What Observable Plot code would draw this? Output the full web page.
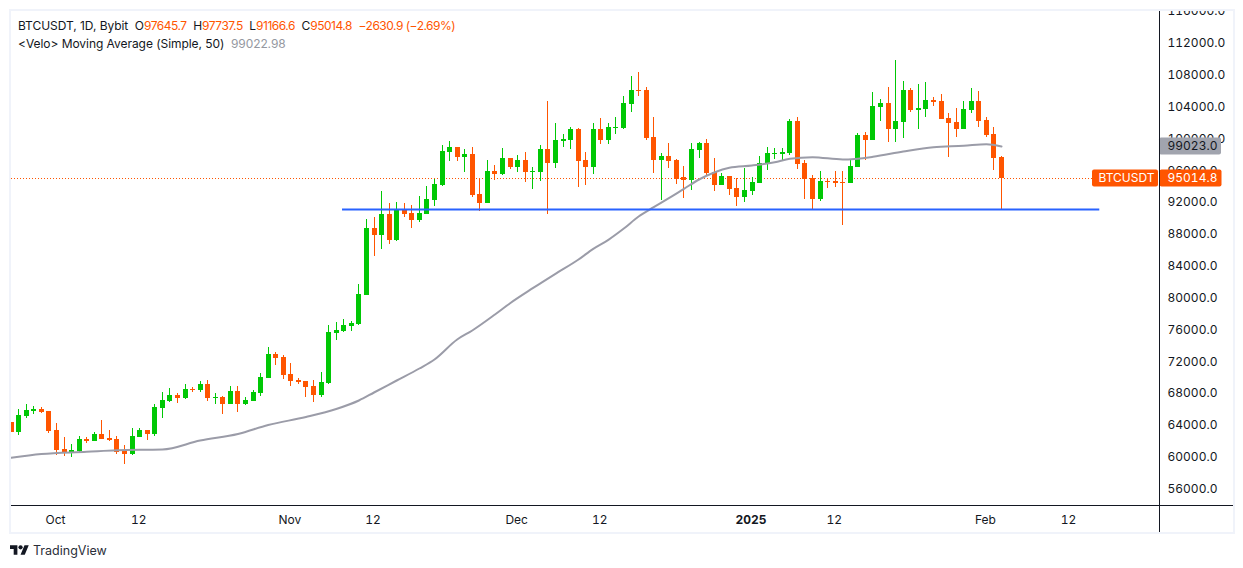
<!DOCTYPE html>
<html>
<head>
<meta charset="utf-8">
<script src="https://cdn.jsdelivr.net/npm/d3@7"></script>
<script src="https://cdn.jsdelivr.net/npm/@observablehq/plot@0.6"></script>
<style>
html,body{margin:0;padding:0;background:#fff;width:1243px;height:568px;overflow:hidden}
body{position:relative;font-family:Inter,"Noto Sans",sans-serif;color:#131722}
svg{display:block}
.strip{position:absolute;left:0;top:0;width:1243px;height:10px;background:#fff}
.frame{position:absolute;left:9px;top:9px;width:1222px;height:521px;border:2px solid #f0f3fa;pointer-events:none}
.hline{position:absolute;left:11px;top:505px;width:1222px;height:1px;background:#131722}
.vline{position:absolute;left:1159px;top:11px;width:1px;height:521px;background:#131722}
.legend{position:absolute;left:18px;top:17px;font-size:12px;line-height:17.5px;white-space:pre;letter-spacing:-0.05px}
.up{color:#ff5500;letter-spacing:-0.5px}.ma{color:#9598a1;font-size:12px;letter-spacing:-0.1px}
.brand{position:absolute;left:10px;top:543px;display:flex;align-items:center;gap:4px;font-size:12.5px;color:#2a2e39}
</style>
</head>
<body>
<div id="chart"></div>
<div class="strip"></div>
<div class="frame"></div>
<div class="hline"></div>
<div class="vline"></div>
<div class="legend">BTCUSDT, 1D, Bybit  O<span class="up">97645.7</span>  H<span class="up">97737.5</span>  L<span class="up">91166.6</span>  C<span class="up">95014.8</span>  <span class="up">−2630.9 (−2.69%)</span>
&lt;Velo&gt; Moving Average (Simple, 50)  <span class="ma">99022.98</span></div>
<div class="brand"><svg width="19" height="15" viewBox="0 0 36 28"><path fill="#131722" d="M14 22H7V11H0V4h14v18zM28 22h-8l7.5-18h8L28 22z"/><circle fill="#131722" cx="20" cy="8" r="4"/></svg><span>TradingView</span></div>
<script>
const firstDay = "2024-09-25";
const opens = [64369,63154,65122,65750,66002,65750,
63364,60978,60601,60726,62234,61982,62862,62359,62234,60726,
60350,62485,63364,62862,66127,67006,67760,67383,68514,68388,
69142,67383,67509,66630,68262,66630,67006,68011,69895,72910,
72533,70398,69644,69518,68890,67760,69267,75547,75798,76426,
76678,80320,88735,87856,90494,87228,91122,90619,89740,90494,
92252,94136,98281,98909,97653,98030,93006,91875,95894,95518,
97527,96397,97276,95769,95769,98658,96899,99662,99788,101170,
97276,96397,101170,99788,101295,101295,104310,106068,106068,100165,
97276,97778,97276,95141,94764,98532,99411,95769,94136,95266,
93759,92629,93382,94387,96774,98030,98030,98155,102174,96899,
95015,92378,94638,94638,94513,94387,96397,100416,99788,103933,
104435,101170,102049,106068,103556,103682,104812,104686,102551,102049,
101170,103556,104686,102300,100542,97645.7];
const highs = [64400,66002,66630,66378,66253,65750,
64243,62485,61606,62610,62485,63113,64620,63364,62610,61480,
63615,63615,63364,66630,68137,68639,68011,69142,68765,69518,
69644,68011,67635,68890,68890,67509,68388,70523,73789,73161,
72784,71779,69895,69518,69644,70649,76552,76929,77306,77054,
81702,89866,90117,93382,91875,92001,91875,91624,92754,94010,
94890,99160,99662,98909,98658,98909,95015,97276,96648,98783,
97527,97904,98281,96397,99160,104686,101923,100542,101421,101295,
98281,101923,102551,101923,102677,105314,107826,108329,106445,102677,
98155,99411,97402,96522,99411,99537,99914,97527,95643,95266,
95015,96271,95141,97778,98909,98783,98783,102426,102677,97276,
95392,95895,94890,95895,95895,97402,100667,100793,105817,104938,
106445,109836,107198,106319,106822,107073,105189,105566,103179,103807,
104686,106319,105942,102677,101421,97737.5];
const lows = [63154,62736,64913,65415,65499,62987,
60224,60098,59973,60601,61731,61982,62234,61982,60350,59094,
60224,62485,62108,62610,64871,66881,66755,67258,68137,68137,
67006,66630,65374,66630,65625,66504,67006,67635,69895,71528,
69770,68890,69142,67509,66881,67509,69200,74668,75673,75798,
76552,80320,85218,86098,86726,87102,90117,88735,89489,90494,
91498,94010,97150,97150,95769,92629,90870,91875,94764,95392,
96146,95769,94513,93634,94638,90494,96271,98909,98658,93885,
94136,95518,99286,99286,100542,101170,103305,105314,99788,95643,
92252,96271,94262,92503,93508,97527,95266,93382,94136,92880,
91498,91998,92880,94387,96020,97402,97276,97904,96146,92378,
91122,92126,93759,93885,89112,94387,96397,97276,99788,102174,
99537,99537,100039,103305,101170,102677,104058,102426,97653,100165,
101170,103179,101421,100165,96020,91166.6];
const closes = [63154,65248,65876,66002,65625,63238,
60852,60601,60852,62234,61982,62862,62234,62108,60601,60350,
62610,63364,62862,66253,67132,67760,67383,68514,68388,69142,
67383,67509,66630,68262,66630,67132,68137,70021,72910,72407,
70272,69518,69393,68765,67760,69393,75673,75924,76552,76803,
80446,88735,87856,90494,87228,91122,90494,89740,90619,92378,
94262,98406,98909,97653,98030,92880,91875,95894,95518,97527,
96397,97276,95769,95894,98658,96899,99788,99914,101170,97150,
96397,101170,99788,101421,101421,104435,106068,105942,100039,97276,
97778,97150,94931,94764,98658,99411,95643,94136,95266,93634,
92629,93508,94513,96899,98155,98155,98281,102174,96774,94890,
92378,94638,94513,94387,94387,96522,100416,99788,104058,104435,
101170,102174,106068,103556,103807,104812,104561,102426,101923,101170,
103682,104686,102174,100416,97527,95014.8];
const maDays = [-6,-2,4,8,14,19,24,28,33,37,40,42,45,48,50,53,55,58,60,63,66,69,71,73,75,77,79,81,83,85,87,89,92,95,97,100,104,108,112,116,120,123,125];
const maValues = [59935,60412,60689,60889,60977,62108,62924,64055,65059,66064,67132,68137,69644,71151,72281,74793,75924,77933,79353,81237,83045,84804,86185,87316,88697,90242,91410,92541,93721,94889,95769,96359,96648,97062,97489,97690,97401,97741,98406,98946,99122,99323,99023];
const priceTicks = [56000,60000,64000,68000,72000,76000,80000,84000,88000,92000,96000,100000,104000,108000,112000,116000];
const timeTicks = ["2024-10-01","2024-10-12","2024-11-01","2024-11-12","2024-12-01","2024-12-12","2025-01-12","2025-02-01","2025-02-12"];
const yearTick = ["2025-01-01"];
const supportLevel = 91120;
const lastClose = 95014.8;
const lastMA = 99023;
const orange = "#ff5500", green = "#00c805", gray = "#a1a4ae";

const start = new Date(firstDay + "T00:00Z");
const candles = opens.map((o, i) => ({
  date: d3.utcDay.offset(start, i), open: o, high: highs[i], low: lows[i], close: closes[i],
  color: closes[i] >= o ? green : orange
}));
const maData = maDays.map((d, i) => ({date: d3.utcDay.offset(d3.utcDay.offset(start, 6), d), value: maValues[i]}));
const monthNames = {1:"Jan",2:"Feb",9:"Sep",10:"Oct",11:"Nov",12:"Dec"};
const fmtTime = d => d.getUTCDate() === 1 ? monthNames[d.getUTCMonth() + 1] : String(d.getUTCDate());

function badges(index, {y}, values, {width, marginRight}) {
  const g = d3.create("svg:g");
  const x0 = width - marginRight;
  const box = (x, w, p, fill) => g.append("rect").attr("x", x).attr("width", w).attr("y", y(p) - 8.5).attr("height", 17).attr("rx", 2).attr("fill", fill);
  box(x0, 62, lastMA, gray);
  box(x0 - 67, 66, lastClose, orange);
  box(x0 + 0.5, 62, lastClose, orange);
  return g.node();
}

const chart = Plot.plot({
  width: 1243, height: 568,
  marginLeft: 11, marginRight: 84, marginTop: 11, marginBottom: 63,
  style: {fontFamily: "Inter, 'Noto Sans', sans-serif", fontSize: "12px", background: "#fff", color: "#131722", fontVariantNumeric: "tabular-nums"},
  x: {type: "utc", domain: [start, candles[candles.length - 1].date], range: [10.64, 1001]},
  y: {domain: [53944, 115990]},
  marks: [
    Plot.axisX({ticks: timeTicks.map(d => new Date(d + "T00:00Z")), tickFormat: fmtTime, tickSize: 0, tickPadding: 9.5, label: null, fontSize: 12, dx: -1}),
    Plot.axisX({ticks: yearTick.map(d => new Date(d + "T00:00Z")), tickFormat: () => "2025", tickSize: 0, tickPadding: 9.5, label: null, fontWeight: "bold", fontSize: 12, dx: -1}),
    Plot.axisY({anchor: "right", ticks: priceTicks, tickFormat: d => d.toFixed(1), tickSize: 0, tickPadding: 8, label: null, fontSize: 12}),
    Plot.ruleY([lastClose], {stroke: orange, strokeWidth: 1, strokeDasharray: "1 2"}),
    Plot.ruleX(candles, {x: "date", y1: "low", y2: "high", stroke: "color", strokeWidth: 1, shapeRendering: "crispEdges", clip: "frame"}),
    Plot.ruleX(candles, {x: "date", y1: "open", y2: "close", stroke: "color", strokeWidth: 5, shapeRendering: "crispEdges", clip: "frame"}),
    Plot.line(maData, {x: "date", y: "value", stroke: "#9b9ca8", strokeWidth: 2, curve: "monotone-x", clip: "frame"}),
    Plot.ruleY([supportLevel], {x1: new Date("2024-11-07T20:00Z"), x2: new Date("2025-02-16T00:00Z"), stroke: "#2962ff", strokeWidth: 2}),
    badges,
    Plot.text([lastMA], {y: d => d, frameAnchor: "right", dx: 8, textAnchor: "start", text: d => d.toFixed(1), fill: "#131722", fontSize: 12}),
    Plot.text([lastClose], {y: d => d, frameAnchor: "right", dx: 8, textAnchor: "start", text: d => d.toFixed(1), fill: "#fff", fontSize: 12}),
    Plot.text([lastClose], {y: d => d, frameAnchor: "right", dx: -5, textAnchor: "end", text: () => "BTCUSDT", fill: "#fff", fontSize: 12})
  ]
});
document.getElementById("chart").appendChild(chart);
</script>
</body>
</html>
